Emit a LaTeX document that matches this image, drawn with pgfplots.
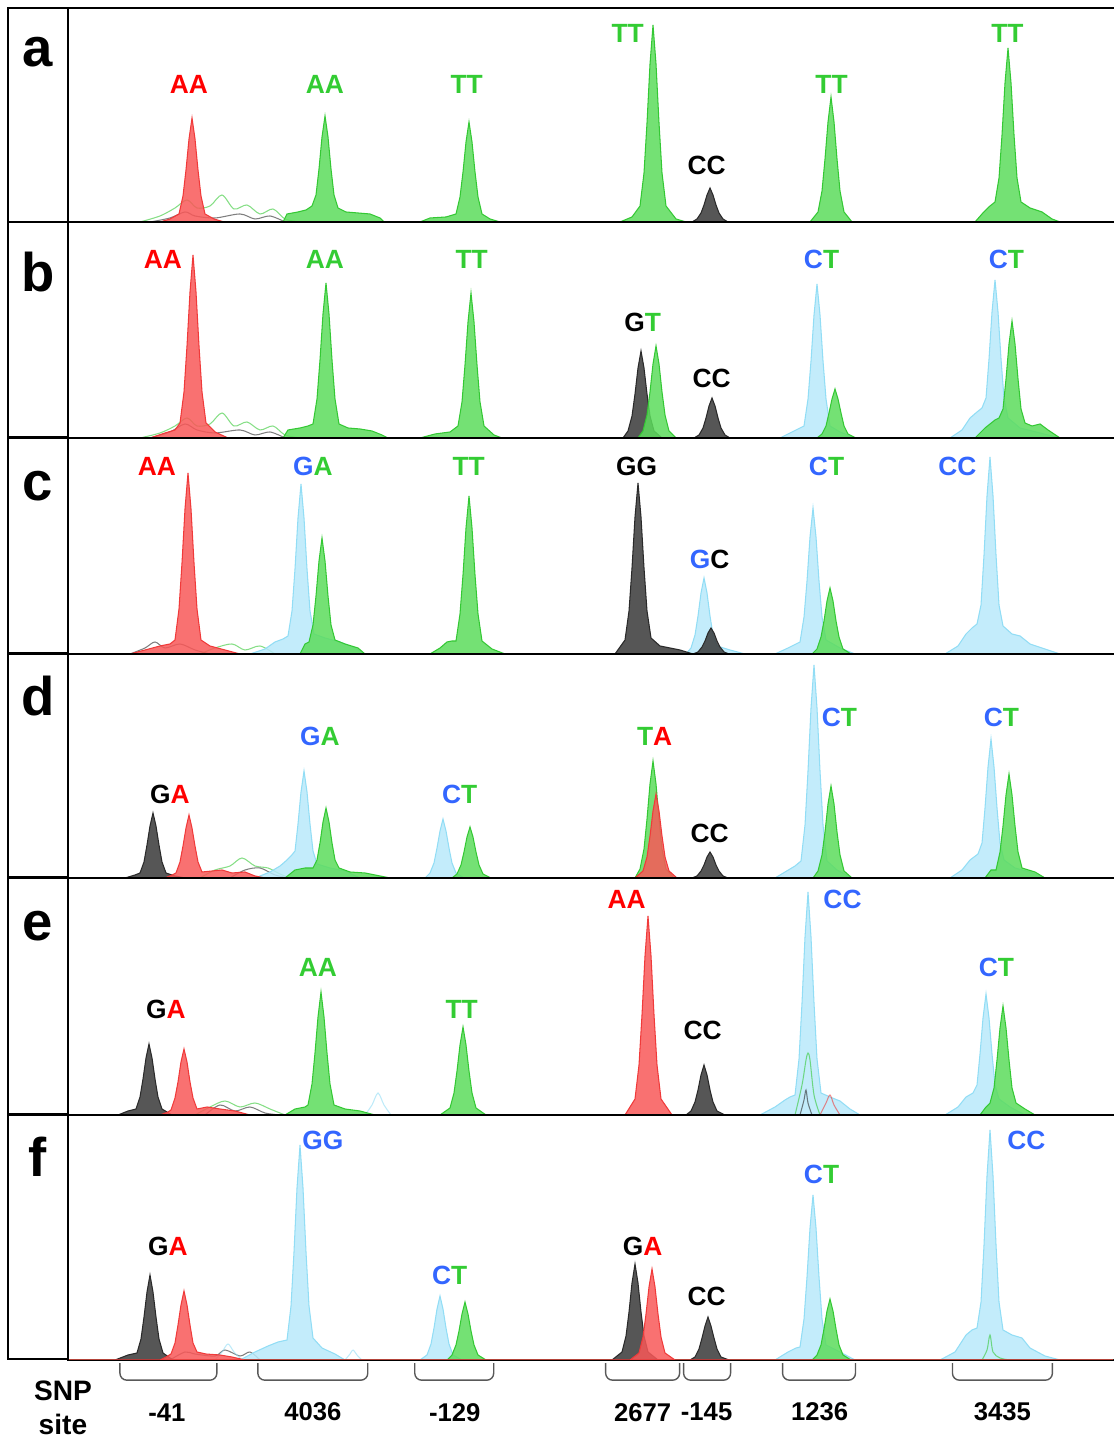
\documentclass[border=0pt]{standalone}
\usepackage{fontspec}
\setmainfont{Liberation Sans}
\usepackage{pgfplots}
\pgfplotsset{compat=1.18}
\definecolor{PkRed}{HTML}{F85858}
\definecolor{PkGreen}{HTML}{5CDC5C}
\definecolor{PkBlue}{HTML}{B8E9FA}
\definecolor{PkBlack}{HTML}{383838}
\definecolor{EdRed}{HTML}{F03A3A}
\definecolor{EdGreen}{HTML}{34C834}
\definecolor{EdBlue}{HTML}{92DDF5}
\definecolor{EdBlack}{HTML}{2A2A2A}
\definecolor{LbRed}{HTML}{FF0000}
\definecolor{LbGreen}{HTML}{33CC33}
\definecolor{LbBlue}{HTML}{3366FF}
\pgfplotsset{
  panel/.style={scale only axis, width=10.47cm, anchor=south west,
    xmin=68, xmax=1115, ymin=0, xtick=\empty, ytick=\empty,
    axis line style={line width=0.7pt}, clip=true},
  pk/.style={fill=Pk#1, draw=Ed#1, fill opacity=0.85, line width=0.3pt},
  nz/.style={draw=Ed#1, line width=0.3pt, opacity=0.6, smooth},
}
\tikzset{
  gt/.style={font=\bfseries\fontsize{7.5}{9}\selectfont, inner sep=0pt, anchor=center},
  lt/.style={font=\bfseries\fontsize{15.5}{18}\selectfont, inner sep=0pt, anchor=base},
  snp/.style={font=\bfseries\fontsize{7.3}{9}\selectfont, inner sep=0pt, anchor=center},
}
\newcommand{\R}[1]{{\color{LbRed}#1}}
\newcommand{\G}[1]{{\color{LbGreen}#1}}
\newcommand{\B}[1]{{\color{LbBlue}#1}}
\newcommand{\K}[1]{{\color{black}#1}}
\begin{document}
\begin{tikzpicture}
\useasboundingbox (0,0) rectangle (11.13cm,14.41cm);

% ---- panel a
\begin{axis}[panel, at={(0.68cm,12.19cm)}, height=2.14cm, ymax=214]
\addplot[nz=Green] coordinates {(140,0)(160,6)(175,14)(187,22)(197,14)(210,16)(222,27)(234,13)(247,17)(260,8)(273,13)(285,3)(300,0)};
\addplot[nz=Black] coordinates {(150,0)(170,4)(185,10)(195,6)(215,4)(240,8)(255,3)(270,6)(285,0)};
\addplot[pk=Green] coordinates {(68,0)(283,0)(287,8)(298,10)(306,12)(312,16)(316,27)(319,53)(322,85)(325,106)(328,85)(331,53)(334,27)(338,14)(346,10)(358,9)(370,8)(380,4)(384,0)
 (420,0)(430,4)(446,5)(456,8)(460,25)(463,50)(466,80)(469,100)(472,80)(475,50)(478,25)(482,8)(490,3)(500,0)
 (620,0)(632,5)(640,16)(644,49)(647,99)(650,158)(653,197)(656,158)(659,99)(662,49)(666,16)(676,3)(686,0)
 (810,0)(818,10)(822,31)(825,63)(828,100)(831,125)(834,100)(837,63)(840,31)(844,10)(852,0)
 (975,0)(982,8)(990,16)(995,20)(999,44)(1002,87)(1005,139)(1008,174)(1011,139)(1014,87)(1017,44)(1021,20)(1030,14)(1042,10)(1052,3)(1060,0)(1113,0)} \closedcycle;
\addplot[pk=Red] coordinates {(68,0)(160,0)(170,3)(179,8)(183,26)(186,52)(189,83)(192,104)(195,83)(198,52)(201,26)(205,8)(214,3)(224,0)(1113,0)} \closedcycle;
\addplot[pk=Black] coordinates {(68,0)(692,0)(697,3)(701,9)(704,17)(707,27)(710,34)(713,27)(716,17)(719,9)(723,3)(728,0)(1113,0)} \closedcycle;
\end{axis}

% ---- panel b
\begin{axis}[panel, at={(0.68cm,10.03cm)}, height=2.16cm, ymax=216]
\addplot[nz=Green] coordinates {(140,0)(160,5)(175,12)(187,20)(197,12)(210,14)(222,25)(234,12)(247,16)(260,8)(273,12)(285,3)(300,0)};
\addplot[nz=Black] coordinates {(150,0)(170,6)(185,14)(197,8)(215,5)(240,8)(255,3)(270,6)(285,0)};
\addplot[pk=Blue] coordinates {(68,0)(780,0)(790,5)(800,10)(804,12)(808,39)(811,77)(814,123)(817,154)(820,123)(823,77)(826,39)(830,12)(840,6)(855,0)
 (950,0)(962,8)(970,20)(977,26)(982,30)(986,40)(989,79)(992,126)(995,158)(998,126)(1001,79)(1004,40)(1008,20)(1020,10)(1040,5)(1060,0)(1113,0)} \closedcycle;
\addplot[pk=Black] coordinates {(68,0)(623,0)(628,7)(632,22)(635,44)(638,70)(641,87)(644,70)(647,44)(650,22)(654,7)(662,0)
 (694,0)(699,3)(703,10)(706,20)(709,32)(712,40)(715,32)(718,20)(721,10)(725,3)(730,0)(1113,0)} \closedcycle;
\addplot[pk=Green] coordinates {(68,0)(283,0)(288,8)(300,10)(308,12)(313,14)(317,39)(320,78)(323,124)(326,155)(329,124)(332,78)(335,39)(339,14)(348,10)(360,9)(372,7)(382,3)(388,0)
 (420,0)(435,4)(450,6)(458,12)(462,36)(465,73)(468,116)(471,145)(474,116)(477,73)(480,36)(484,12)(494,3)(502,0)
 (638,0)(643,7)(647,23)(650,46)(653,74)(656,92)(659,74)(662,46)(665,23)(669,7)(676,0)
 (817,0)(822,4)(826,12)(829,25)(832,39)(835,49)(838,39)(841,25)(844,12)(848,4)(856,0)
 (975,0)(985,10)(995,18)(999,20)(1003,29)(1006,59)(1009,94)(1012,117)(1015,94)(1018,59)(1021,29)(1025,15)(1032,12)(1040,14)(1048,8)(1060,0)(1113,0)} \closedcycle;
\addplot[pk=Red] coordinates {(68,0)(150,0)(165,5)(175,8)(180,15)(184,46)(187,92)(190,146)(193,183)(196,146)(199,92)(202,46)(206,15)(215,6)(228,0)(1113,0)} \closedcycle;
\end{axis}

% ---- panel c
\begin{axis}[panel, at={(0.68cm,7.87cm)}, height=2.16cm, ymax=216]
\addplot[nz=Black] coordinates {(130,0)(145,6)(155,12)(165,6)(180,10)(195,4)(210,0)};
\addplot[nz=Green] coordinates {(200,0)(215,6)(232,10)(245,4)(260,8)(275,0)};
\addplot[pk=Blue] coordinates {(68,0)(250,0)(265,5)(275,12)(283,15)(288,18)(292,43)(295,85)(298,136)(301,170)(304,136)(307,85)(310,43)(314,20)(325,16)(340,12)(355,6)(365,0)
 (686,0)(691,6)(695,19)(698,38)(701,61)(704,76)(707,61)(710,38)(713,19)(717,8)(730,4)(745,0)
 (775,0)(788,6)(796,10)(800,12)(804,37)(807,73)(810,117)(813,146)(816,117)(819,73)(822,37)(826,14)(840,6)(855,0)
 (945,0)(958,8)(966,20)(972,26)(977,30)(981,49)(984,99)(987,158)(990,197)(993,158)(996,99)(999,49)(1003,28)(1012,20)(1020,18)(1030,10)(1045,5)(1060,0)(1113,0)} \closedcycle;
\addplot[pk=Green] coordinates {(68,0)(300,0)(305,10)(309,12)(313,29)(316,58)(319,93)(322,116)(325,93)(328,58)(331,29)(335,14)(345,10)(358,6)(365,0)
 (430,0)(440,6)(447,12)(452,13)(456,13)(460,40)(463,79)(466,126)(469,158)(472,126)(475,79)(478,40)(482,13)(492,5)(505,0)
 (812,0)(817,5)(821,17)(824,33)(827,53)(830,66)(833,53)(836,33)(839,17)(843,5)(851,0)(1113,0)} \closedcycle;
\addplot[pk=Black] coordinates {(68,0)(615,0)(625,14)(629,43)(632,86)(635,137)(638,171)(641,137)(644,86)(647,43)(651,16)(660,8)(680,4)(693,0)
 (698,2)(702,7)(705,13)(708,21)(711,26)(714,21)(717,13)(720,7)(724,2)(729,0)(1113,0)} \closedcycle;
\addplot[pk=Red] coordinates {(68,0)(130,0)(145,4)(160,8)(170,10)(175,14)(179,45)(182,91)(185,145)(188,181)(191,145)(194,91)(197,45)(201,14)(210,8)(225,4)(240,0)(1113,0)} \closedcycle;
\end{axis}

% ---- panel d
\begin{axis}[panel, at={(0.68cm,5.63cm)}, height=2.24cm, ymax=224]
\addplot[nz=Green] coordinates {(200,0)(215,8)(230,12)(242,20)(255,12)(268,10)(280,4)(290,0)};
\addplot[nz=Black] coordinates {(230,0)(245,8)(260,10)(275,3)(290,0)};
\addplot[pk=Blue] coordinates {(68,0)(255,0)(270,6)(280,12)(287,18)(291,22)(295,27)(298,54)(301,86)(304,107)(307,86)(310,54)(313,27)(317,14)(330,10)(345,7)(360,0)
 (425,0)(430,5)(434,15)(437,30)(440,47)(443,59)(446,47)(449,30)(452,15)(456,5)(464,0)
 (775,0)(785,6)(795,12)(801,17)(805,53)(808,107)(811,170)(814,213)(817,170)(820,107)(823,53)(827,17)(837,8)(852,0)
 (950,0)(962,8)(970,18)(978,24)(982,35)(985,70)(988,111)(991,139)(994,111)(997,70)(1000,35)(1004,18)(1015,10)(1030,6)(1045,0)(1113,0)} \closedcycle;
\addplot[pk=Green] coordinates {(68,0)(285,0)(295,8)(305,10)(313,10)(317,18)(320,35)(323,56)(326,70)(329,56)(332,35)(335,18)(339,10)(350,6)(365,5)(380,2)(390,0)
 (452,0)(457,4)(461,13)(464,26)(467,41)(470,51)(473,41)(476,26)(479,13)(483,4)(491,0)
 (635,0)(640,9)(644,29)(647,59)(650,94)(653,117)(656,94)(659,59)(662,29)(666,9)(674,0)
 (813,0)(818,7)(822,23)(825,46)(828,74)(831,92)(834,74)(837,46)(840,23)(844,7)(852,0)
 (985,0)(991,8)(996,8)(1000,26)(1003,52)(1006,83)(1009,104)(1012,83)(1015,52)(1018,26)(1022,10)(1035,6)(1045,0)(1113,0)} \closedcycle;
\addplot[pk=Black] coordinates {(68,0)(125,0)(135,3)(140,5)(144,16)(147,33)(150,52)(153,65)(156,52)(159,33)(162,16)(166,5)(175,2)(185,0)
 (692,0)(697,2)(701,7)(704,13)(707,21)(710,26)(713,21)(716,13)(719,7)(723,2)(728,0)(1113,0)} \closedcycle;
\addplot[pk=Red] coordinates {(68,0)(165,0)(172,3)(176,5)(180,16)(183,32)(186,50)(189,63)(192,50)(195,32)(198,16)(202,6)(212,7)(222,8)(232,5)(245,6)(255,2)(265,0)
 (635,0)(643,7)(647,21)(650,42)(653,67)(656,84)(659,67)(662,42)(665,21)(669,7)(677,0)(1113,0)} \closedcycle;
\end{axis}

% ---- panel e
\begin{axis}[panel, at={(0.68cm,3.26cm)}, height=2.37cm, ymax=237]
\addplot[nz=Green] coordinates {(195,0)(210,8)(225,14)(240,8)(255,12)(270,6)(285,0)};
\addplot[nz=Black] coordinates {(205,0)(220,10)(235,4)(250,8)(265,2)(280,0)};
\addplot[nz=Blue] coordinates {(365,0)(372,10)(378,22)(384,10)(391,0)};
\addplot[pk=Blue] coordinates {(68,0)(760,0)(775,8)(785,15)(790,18)(795,20)(799,56)(802,112)(805,178)(808,223)(811,178)(814,112)(817,56)(821,22)(830,18)(840,14)(850,6)(860,0)
 (945,0)(958,8)(966,18)(973,22)(977,30)(980,61)(983,97)(986,121)(989,97)(992,61)(995,30)(999,16)(1010,8)(1025,0)(1113,0)} \closedcycle;
\addplot[nz=Green] coordinates {(795,0)(802,30)(806,55)(808,62)(810,55)(814,20)(820,0)};
\addplot[nz=Black] coordinates {(800,0)(804,15)(806,25)(808,12)(812,0)};
\addplot[nz=Red] coordinates {(820,0)(826,12)(830,20)(834,10)(840,0)};
\addplot[pk=Green] coordinates {(68,0)(285,0)(295,6)(305,8)(308,10)(312,31)(315,62)(318,98)(321,123)(324,98)(327,62)(330,31)(334,10)(345,6)(360,4)(375,0)
 (440,0)(450,7)(454,22)(457,44)(460,70)(463,88)(466,70)(469,44)(472,22)(476,7)(486,0)
 (980,0)(986,8)(990,12)(994,27)(997,55)(1000,87)(1003,109)(1006,87)(1009,55)(1012,27)(1016,12)(1025,6)(1035,0)(1113,0)} \closedcycle;
\addplot[pk=Black] coordinates {(68,0)(118,0)(128,4)(136,6)(140,18)(143,36)(146,57)(149,71)(152,57)(155,36)(158,18)(162,6)(172,0)
 (686,0)(691,4)(695,13)(698,25)(701,40)(704,50)(707,40)(710,25)(713,13)(717,4)(725,0)(1113,0)} \closedcycle;
\addplot[pk=Red] coordinates {(68,0)(160,0)(168,3)(171,5)(175,17)(178,33)(181,53)(184,66)(187,53)(190,33)(193,17)(197,6)(207,8)(220,6)(235,4)(250,0)
 (625,0)(635,16)(639,50)(642,100)(645,159)(648,199)(651,159)(654,100)(657,50)(661,16)(672,0)(1113,0)} \closedcycle;
\end{axis}

% ---- panel f
\begin{axis}[panel, at={(0.68cm,0.81cm)}, height=2.45cm, ymax=245]
\addplot[nz=Black] coordinates {(170,0)(185,8)(195,6)(215,4)(225,10)(240,4)(250,8)(260,0)};
\addplot[nz=Blue] coordinates {(215,0)(222,8)(228,16)(234,8)(242,0)};
\addplot[nz=Blue] coordinates {(345,0)(350,6)(353,10)(357,5)(362,0)};
\addplot[pk=Blue] coordinates {(68,0)(240,0)(255,8)(268,14)(278,18)(287,20)(291,54)(294,108)(297,172)(300,215)(303,172)(306,108)(309,54)(313,22)(322,12)(335,6)(345,0)
 (420,0)(427,5)(431,16)(434,32)(437,51)(440,64)(443,51)(446,32)(449,16)(453,5)(462,0)
 (775,0)(788,8)(796,12)(800,13)(804,41)(807,83)(810,132)(813,165)(816,132)(819,83)(822,41)(826,15)(840,8)(855,0)
 (940,0)(955,8)(966,25)(972,30)(977,32)(981,58)(984,115)(987,184)(990,230)(993,184)(996,115)(999,58)(1003,30)(1012,25)(1022,22)(1030,12)(1045,4)(1060,0)(1113,0)} \closedcycle;
\addplot[nz=Green] coordinates {(982,0)(987,10)(990,25)(993,8)(1000,2)(1010,0)};
\addplot[pk=Green] coordinates {(68,0)(447,0)(452,5)(456,15)(459,29)(462,46)(465,58)(468,46)(471,29)(474,15)(478,5)(486,0)
 (812,0)(817,5)(821,15)(824,31)(827,49)(830,61)(833,49)(836,31)(839,15)(843,5)(851,0)(1113,0)} \closedcycle;
\addplot[pk=Black] coordinates {(68,0)(115,0)(128,5)(137,7)(141,21)(144,43)(147,68)(150,85)(153,68)(156,43)(159,21)(163,7)(173,0)
 (612,0)(622,8)(626,24)(629,48)(632,77)(635,96)(638,77)(641,48)(644,24)(648,8)(658,0)
 (690,0)(695,3)(699,11)(702,22)(705,34)(708,43)(711,34)(714,22)(717,11)(721,3)(729,0)(1113,0)} \closedcycle;
\addplot[pk=Red] coordinates {(68,0)(160,0)(166,3)(171,6)(175,17)(178,35)(181,55)(184,69)(187,55)(190,35)(193,17)(197,8)(206,6)(220,5)(232,3)(245,0)
 (630,0)(639,7)(643,23)(646,46)(649,73)(652,91)(655,73)(658,46)(661,23)(665,7)(675,0)(1113,0)} \closedcycle;
\end{axis}

% ---- frame, letters, genotype calls, SNP sites (pixel coordinates)
\begin{scope}[x=0.01cm, y=-0.01cm, yshift=14.41cm]
\draw[line width=0.7pt] (8,8) rectangle (68,1360);
\foreach \yy in {222,438,654,878,1115} \draw[line width=0.7pt] (8,\yy) -- (68,\yy);
\node[lt] at (38,67) {a};
\node[lt] at (38,292) {b};
\node[lt] at (38,501) {c};
\node[lt] at (38,716) {d};
\node[lt] at (38,941) {e};
\node[lt] at (38,1177) {f};
% a
\node[gt] at (189,85) {\R{AA}};
\node[gt] at (325,85) {\G{AA}};
\node[gt] at (467,85) {\G{TT}};
\node[gt] at (628,33) {\G{TT}};
\node[gt] at (707,166) {\K{CC}};
\node[gt] at (832,85) {\G{TT}};
\node[gt] at (1008,33) {\G{TT}};
% b
\node[gt] at (163,260) {\R{AA}};
\node[gt] at (325,260) {\G{AA}};
\node[gt] at (472,260) {\G{TT}};
\node[gt] at (643,323) {\K{G}\G{T}};
\node[gt] at (712,379) {\K{CC}};
\node[gt] at (822,260) {\B{C}\G{T}};
\node[gt] at (1007,260) {\B{C}\G{T}};
% c
\node[gt] at (157,467) {\R{AA}};
\node[gt] at (313,467) {\B{G}\G{A}};
\node[gt] at (469,467) {\G{TT}};
\node[gt] at (637,467) {\K{GG}};
\node[gt] at (710,560) {\B{G}\K{C}};
\node[gt] at (827,467) {\B{C}\G{T}};
\node[gt] at (958,467) {\B{CC}};
% d
\node[gt] at (170,795) {\K{G}\R{A}};
\node[gt] at (320,737) {\B{G}\G{A}};
\node[gt] at (460,795) {\B{C}\G{T}};
\node[gt] at (655,737) {\G{T}\R{A}};
\node[gt] at (710,834) {\K{CC}};
\node[gt] at (840,718) {\B{C}\G{T}};
\node[gt] at (1002,718) {\B{C}\G{T}};
% e
\node[gt] at (166,1010) {\K{G}\R{A}};
\node[gt] at (318,968) {\G{AA}};
\node[gt] at (462,1010) {\G{TT}};
\node[gt] at (627,900) {\R{AA}};
\node[gt] at (703,1031) {\K{CC}};
\node[gt] at (843,900) {\B{CC}};
\node[gt] at (997,968) {\B{C}\G{T}};
% f
\node[gt] at (168,1247) {\K{G}\R{A}};
\node[gt] at (323,1141) {\B{GG}};
\node[gt] at (450,1276) {\B{C}\G{T}};
\node[gt] at (643,1247) {\K{G}\R{A}};
\node[gt] at (707,1297) {\K{CC}};
\node[gt] at (822,1175) {\B{C}\G{T}};
\node[gt] at (1027,1141) {\B{CC}};
% brackets
\foreach \xa/\xb in {120/217, 258/368, 415/494, 606/680, 684/731, 783/856, 953/1053}
  \draw[gray!70!black, line width=0.4pt, rounded corners=0.07cm] (\xa,1364) -- (\xa,1381) -- (\xb,1381) -- (\xb,1364);
\node[snp] at (167,1413) {-41};
\node[snp] at (313,1413) {4036};
\node[snp] at (455,1413) {-129};
\node[snp] at (643,1413) {2677};
\node[snp] at (707,1413) {-145};
\node[snp] at (820,1413) {1236};
\node[snp] at (1003,1413) {3435};
\node[font=\bfseries\fontsize{8}{9}\selectfont, inner sep=0pt, anchor=center] at (63,1392) {SNP};
\node[font=\bfseries\fontsize{8}{9}\selectfont, inner sep=0pt, anchor=center] at (63,1425) {site};
\end{scope}
\end{tikzpicture}
\end{document}
